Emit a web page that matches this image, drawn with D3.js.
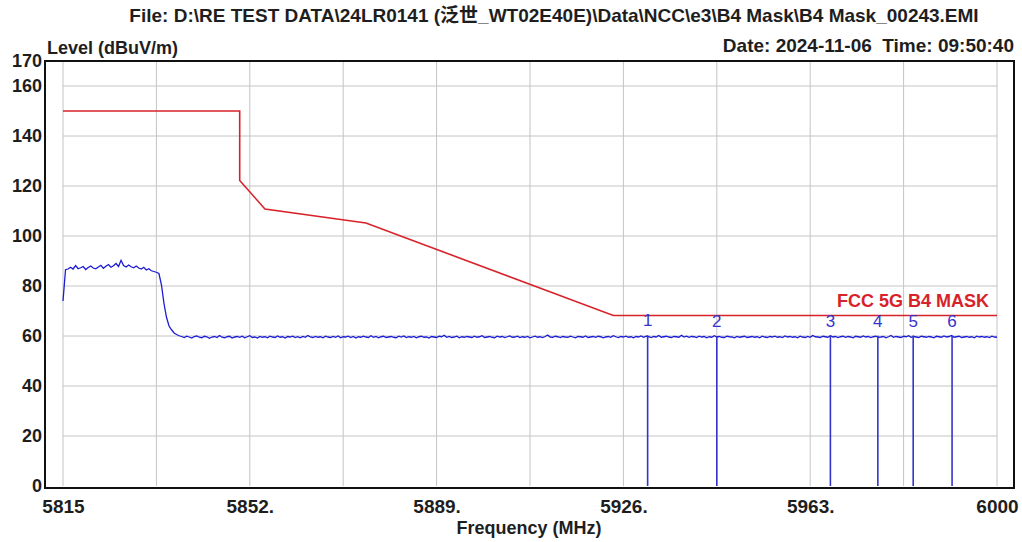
<!DOCTYPE html>
<html>
<head>
<meta charset="utf-8">
<script src="https://cdn.jsdelivr.net/npm/d3@7"></script>
<style>
  html, body { margin: 0; padding: 0; background: #fff; }
  svg { display: block; }
  text { font-family: "Liberation Sans", Arial, "Noto Sans CJK SC", sans-serif; }
</style>
</head>
<body>
<svg id="chart" width="1022" height="542"></svg>
<script>
const titleText = 'File: D:\\RE TEST DATA\\24LR0141 (泛世_WT02E40E)\\Data\\NCC\\e3\\B4 Mask\\B4 Mask_00243.EMI';
const dateText = 'Date: 2024-11-06  Time: 09:50:40';
const yTitle = 'Level (dBuV/m)';
const xTitle = 'Frequency (MHz)';
const legendText = 'FCC 5G B4 MASK';

// axis ticks and grid
const xTickValues = [5815, 5852, 5889, 5926, 5963, 6000];
const xTickLabels = ['5815', '5852.', '5889.', '5926.', '5963.', '6000'];
const xGridValues = [5815, 5833.5, 5852, 5870.5, 5889, 5907.5, 5926, 5944.5, 5963, 5981.5, 6000];
const yTickValues = [0, 20, 40, 60, 80, 100, 120, 140, 160, 170];
const yGridValues = [20, 40, 60, 80, 100, 120, 140, 160];

// limit line
const maskFreqs = [5815, 5850, 5850, 5855, 5875, 5924, 6000];
const maskLevels = [150, 150, 122.2, 110.8, 105.2, 68.2, 68.2];

// measured trace, sweep 5815 .. 6000 MHz, 0.5 MHz per point
const sweepStart = 5815;
const sweepStep = 0.5;
const traceLevels = [
  74.0, 86.5, 86.8, 87.5, 86.8, 88.2, 86.9, 87.3, 87.8, 86.6,
  87.4, 88.0, 87.2, 86.9, 87.6, 88.3, 87.1, 87.9, 88.6, 87.5,
  88.1, 89.0, 87.8, 90.3, 88.2, 87.6, 88.4, 87.7, 87.3, 88.0,
  87.2, 86.8, 87.5, 86.4, 86.9, 86.1, 85.8, 85.5, 85.0, 80.5,
  73.0, 67.5, 64.0, 62.5, 61.2, 60.6, 60.1, 59.8, 59.4, 59.9,
  59.6, 59.2, 59.8, 60.0, 59.5, 59.3, 59.9, 59.7, 59.1, 59.6,
  59.8, 59.4, 60.2, 59.5, 59.3, 59.7, 59.9, 59.2, 59.6, 59.8,
  59.5, 59.9, 59.3, 59.7, 60.1, 59.4, 59.6, 59.2, 59.8, 59.5,
  59.7, 59.3, 59.9, 59.6, 59.4, 60.0, 59.5, 59.7, 59.2, 59.8,
  59.6, 59.9, 59.4, 59.7, 59.3, 59.8, 59.5, 60.2, 59.6, 59.4,
  59.8, 59.5, 59.7, 59.3, 59.9, 59.6, 59.4, 59.8, 59.5, 60.0,
  59.3, 59.7, 59.6, 59.9, 59.4, 59.8, 59.2, 59.7, 59.5, 59.9,
  59.6, 59.4, 60.1, 59.5, 59.8, 59.3, 59.7, 59.9, 59.4, 59.6,
  59.8, 59.5, 59.3, 59.9, 59.6, 60.0, 59.4, 59.7, 59.5, 59.8,
  59.3, 59.7, 59.9, 59.5, 59.6, 59.2, 59.8, 59.6, 59.4, 59.9,
  59.7, 60.3, 59.5, 59.8, 59.4, 59.6, 59.9, 59.3, 59.7, 59.5,
  59.8, 59.6, 59.4, 59.9, 59.5, 59.7, 60.1, 59.4, 59.6, 59.8,
  59.5, 59.3, 59.9, 59.6, 59.8, 59.4, 59.7, 60.0, 59.5, 59.6,
  59.9, 59.4, 59.7, 59.5, 59.8, 59.3, 59.6, 59.9, 59.5, 59.7,
  59.4, 59.8, 60.4, 59.6, 59.5, 59.9, 59.7, 59.4, 59.8, 59.6,
  59.5, 59.9, 59.6, 59.3, 59.8, 59.7, 59.5, 60.0, 59.4, 59.6,
  59.8, 59.5, 59.9, 59.7, 59.3, 59.6, 59.8, 59.5, 60.1, 59.7,
  59.4, 59.8, 59.6, 59.9, 59.5, 59.7, 59.3, 59.8, 59.6, 60.0,
  59.5, 59.9, 59.7, 59.4, 59.8, 59.6, 60.2, 59.5, 59.7, 59.9,
  59.6, 59.4, 59.8, 59.7, 59.5, 60.3, 59.6, 59.9, 59.5, 59.8,
  59.7, 59.4, 59.9, 59.6, 59.8, 59.3, 59.7, 59.5, 60.1, 59.6,
  59.8, 59.5, 59.4, 59.9, 59.7, 59.6, 59.3, 59.8, 59.5, 59.7,
  59.9, 59.4, 59.6, 59.8, 59.5, 59.7, 59.3, 59.9, 59.6, 59.4,
  59.8, 59.6, 59.9, 59.5, 59.7, 59.4, 60.0, 59.6, 59.8, 59.5,
  59.7, 59.3, 59.9, 59.6, 59.4, 59.8, 59.5, 60.2, 59.7, 59.6,
  59.4, 59.9, 59.7, 59.5, 60.1, 59.6, 59.8, 59.4, 59.7, 59.9,
  59.5, 59.8, 59.6, 59.3, 59.9, 59.7, 59.5, 60.0, 59.6, 59.8,
  59.4, 59.7, 59.9, 59.5, 59.6, 59.8, 59.3, 59.7, 60.2, 59.5,
  59.8, 59.6, 59.4, 59.9, 59.7, 60.1, 59.5, 59.8, 59.6, 59.4,
  59.9, 59.7, 59.5, 59.8, 59.6, 59.3, 59.9, 59.7, 59.5, 60.0,
  59.6, 59.8, 60.2, 59.5, 59.7, 59.9, 59.4, 59.6, 59.8, 59.5,
  59.7, 59.3, 59.9, 59.6, 59.8, 59.5, 59.7, 59.4, 59.9, 59.6,
  59.5
];

// markers
const markerLabels = ['1', '2', '3', '4', '5', '6'];
const markerFreqs = [5930.8, 5944.5, 5967.0, 5976.4, 5983.4, 5991.1];
const markerLevels = [60.3, 60.0, 60.2, 60.1, 60.2, 60.0];

const colors = { trace: '#1c1cd4', mask: '#d8222a', marker: '#3434cc', grid: '#c4c4c4', text: '#1e1e1e' };

const render = () => {
    const svg = d3.select('#chart');

    const x = d3.scaleLinear().domain([5815, 6000]).range([63, 997]);
    const y = d3.scaleLinear().domain([0, 170]).range([486, 61]);

    // grid
    const grid = svg.append('g');
    grid.selectAll('line.v')
        .data(xGridValues)
        .enter()
        .append('line')
        .attr('x1', d => x(d)).attr('x2', d => x(d))
        .attr('y1', y(170)).attr('y2', y(0))
        .attr('stroke', colors.grid);
    grid.selectAll('line.h')
        .data(yGridValues)
        .enter()
        .append('line')
        .attr('x1', x(5815)).attr('x2', x(6000))
        .attr('y1', d => y(d)).attr('y2', d => y(d))
        .attr('stroke', colors.grid);

    // frame
    svg.append('rect')
        .attr('x', 45).attr('y', 61)
        .attr('width', 969).attr('height', 427)
        .attr('fill', 'none')
        .attr('stroke', '#111')
        .attr('stroke-width', 2);

    // axes
    const yAxis = svg.append('g')
        .attr('transform', 'translate(45,0)')
        .call(d3.axisLeft(y).tickValues(yTickValues).tickSize(0).tickPadding(3));
    const xAxis = svg.append('g')
        .attr('transform', 'translate(0,488)')
        .call(d3.axisBottom(x).tickValues(xTickValues).tickFormat((d, i) => xTickLabels[i]).tickSize(0).tickPadding(12));
    [yAxis, xAxis].forEach(a => {
        a.select('.domain').remove();
        a.selectAll('text')
            .attr('font-family', '"Liberation Sans", Arial, sans-serif')
            .attr('font-size', a === xAxis ? 19 : 18)
            .attr('font-weight', 'bold')
            .attr('fill', colors.text);
    });

    // mask
    const maskLine = d3.line().x(d => x(d[0])).y(d => y(d[1]));
    svg.append('path')
        .datum(maskFreqs.map((f, i) => [f, maskLevels[i]]))
        .attr('d', maskLine)
        .attr('fill', 'none')
        .attr('stroke', colors.mask)
        .attr('stroke-width', 1.6);

    // trace
    const traceLine = d3.line()
        .x((d, i) => x(sweepStart + i * sweepStep))
        .y(d => y(d));
    svg.append('path')
        .datum(traceLevels)
        .attr('d', traceLine)
        .attr('fill', 'none')
        .attr('stroke', colors.trace)
        .attr('stroke-width', 1.3);

    // markers
    const markers = svg.append('g')
        .selectAll('g')
        .data(markerFreqs)
        .enter()
        .append('g');
    markers.append('line')
        .attr('x1', d => x(d)).attr('x2', d => x(d))
        .attr('y1', (d, i) => y(markerLevels[i])).attr('y2', y(0))
        .attr('stroke', colors.marker)
        .attr('stroke-width', 1.6);
    markers.append('text')
        .attr('x', d => x(d))
        .attr('y', (d, i) => y(markerLevels[i]) - 9)
        .attr('text-anchor', 'middle')
        .attr('font-size', 17)
        .attr('fill', colors.marker)
        .text((d, i) => markerLabels[i]);

    // legend
    svg.append('text')
        .attr('x', 989).attr('y', 307)
        .attr('text-anchor', 'end')
        .attr('font-size', 18)
        .attr('font-weight', 'bold')
        .attr('fill', colors.mask)
        .text(legendText);

    // titles
    svg.append('text')
        .attr('x', 554).attr('y', 22)
        .attr('text-anchor', 'middle')
        .attr('font-size', 19).attr('font-weight', 'bold')
        .attr('fill', colors.text)
        .text(titleText);
    svg.append('text')
        .attr('x', 47).attr('y', 54)
        .attr('font-size', 18).attr('font-weight', 'bold')
        .attr('fill', colors.text)
        .text(yTitle);
    svg.append('text')
        .attr('x', 1014).attr('y', 52)
        .attr('text-anchor', 'end')
        .attr('font-size', 19).attr('font-weight', 'bold')
        .attr('fill', colors.text)
        .style('white-space', 'pre')
        .text(dateText);
    svg.append('text')
        .attr('x', 529).attr('y', 534)
        .attr('text-anchor', 'middle')
        .attr('font-size', 18).attr('font-weight', 'bold')
        .attr('fill', colors.text)
        .text(xTitle);
};

render();
</script>
</body>
</html>
